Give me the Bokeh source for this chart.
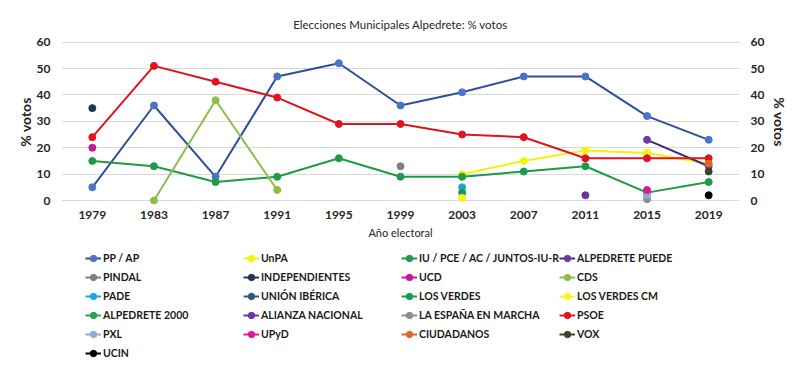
import math
from bokeh.plotting import figure
from bokeh.layouts import column
from bokeh.models import (ColumnDataSource, Legend, LegendItem, LinearAxis,
                          Range1d, FactorRange, FixedTicker)
from bokeh.embed import file_html
from bokeh.resources import INLINE

nan = float("nan")

years = ["1979", "1983", "1987", "1991", "1995", "1999", "2003", "2007", "2011", "2015", "2019"]
y_ticks = [0, 10, 20, 30, 40, 50, 60]

pp_ap = [5, 36, 9, 47, 52, 36, 41, 47, 47, 32, 23]
unpa = [nan, nan, nan, nan, nan, nan, 10, 15, 19, 18, 14]
iu = [15, 13, 7, 9, 16, 9, 9, 11, 13, 3, 7]
alpedrete_puede = [nan, nan, nan, nan, nan, nan, nan, nan, nan, 23, 13]
pindal = [nan, nan, nan, nan, nan, 13, nan, nan, nan, nan, nan]
independientes = [35, nan, nan, nan, nan, nan, nan, nan, nan, nan, nan]
ucd = [20, nan, nan, nan, nan, nan, nan, nan, nan, nan, nan]
cds = [nan, 0, 38, 4, nan, nan, nan, nan, nan, nan, nan]
pade = [nan, nan, nan, nan, nan, nan, 5, nan, nan, nan, nan]
union_iberica = [nan] * 11
los_verdes = [nan, nan, nan, nan, nan, nan, 3, nan, nan, nan, nan]
los_verdes_cm = [nan, nan, nan, nan, nan, nan, 1, nan, nan, nan, nan]
alpedrete_2000 = [nan] * 11
alianza_nacional = [nan, nan, nan, nan, nan, nan, nan, nan, 2, nan, nan]
la_espana_en_marcha = [nan, nan, nan, nan, nan, nan, nan, nan, nan, 0.5, nan]
psoe = [24, 51, 45, 39, 29, 29, 25, 24, 16, 16, 16]
pxl = [nan, nan, nan, nan, nan, nan, nan, nan, nan, 2, nan]
upyd = [nan, nan, nan, nan, nan, nan, nan, nan, nan, 4, nan]
ciudadanos = [nan, nan, nan, nan, nan, nan, nan, nan, nan, nan, 14]
vox = [nan, nan, nan, nan, nan, nan, nan, nan, nan, nan, 11]
ucin = [nan, nan, nan, nan, nan, nan, nan, nan, nan, nan, 2]

series = [
    ("PP / AP", pp_ap, "#2F4F9A", "#4A74C8"),
    ("UnPA", unpa, "#F2F20A", "#F2F20A"),
    ("IU / PCE / AC / JUNTOS-IU-R", iu, "#1E9A48", "#1E9A48"),
    ("ALPEDRETE PUEDE", alpedrete_puede, "#45287E", "#6A3AA0"),
    ("PINDAL", pindal, "#7F7F7F", "#7F7F7F"),
    ("INDEPENDIENTES", independientes, "#26365A", "#26365A"),
    ("UCD", ucd, "#C0189E", "#C0189E"),
    ("CDS", cds, "#8DBE4C", "#8DBE4C"),
    ("PADE", pade, "#1FA5D6", "#1FA5D6"),
    ("UNIÓN IBÉRICA", union_iberica, "#2D5880", "#2D5880"),
    ("LOS VERDES", los_verdes, "#159A55", "#159A55"),
    ("LOS VERDES CM", los_verdes_cm, "#F5F51A", "#F5F51A"),
    ("ALPEDRETE 2000", alpedrete_2000, "#26A14F", "#26A14F"),
    ("ALIANZA NACIONAL", alianza_nacional, "#6A35A0", "#6A35A0"),
    ("LA ESPAÑA EN MARCHA", la_espana_en_marcha, "#8C8C8C", "#8C8C8C"),
    ("PSOE", psoe, "#E0141E", "#E0141E"),
    ("PXL", pxl, "#8FA8D4", "#8FA8D4"),
    ("UPyD", upyd, "#D81B9C", "#D81B9C"),
    ("CIUDADANOS", ciudadanos, "#E0662A", "#E0662A"),
    ("VOX", vox, "#3B4230", "#3B4230"),
    ("UCIN", ucin, "#000000", "#000000"),
]

FONT = "Lato"
TOP_H = 245
LEG_H = 376 - TOP_H

p = figure(width=800, height=TOP_H,
           x_range=FactorRange(*years, range_padding=0),
           y_range=Range1d(-1.5, 61),
           output_backend="svg", toolbar_location=None,
           min_border_left=61, min_border_right=61,
           min_border_top=39, min_border_bottom=41,
           title="Elecciones Municipales Alpedrete: % votos")

p.title.align = "center"
p.title.text_font = FONT
p.title.text_font_size = "11.5px"
p.title.text_font_style = "normal"
p.title.text_color = "#262626"
p.title.standoff = 18
p.outline_line_color = None
p.background_fill_color = "white"
p.border_fill_color = "white"

p.xgrid.grid_line_color = None
p.ygrid.ticker = FixedTicker(ticks=y_ticks)
p.ygrid.grid_line_color = "#D9D9D9"
p.ygrid.grid_line_width = 1

def style_axis(ax):
    ax.axis_line_color = None
    ax.major_tick_line_color = None
    ax.minor_tick_line_color = None
    ax.major_label_text_font = FONT
    ax.major_label_text_font_style = "bold"
    ax.major_label_text_font_size = "12px"
    ax.major_label_text_color = "#262626"
    ax.axis_label_text_font = FONT
    ax.axis_label_text_color = "#262626"

xa = p.xaxis[0]
style_axis(xa)
xa.axis_label = "Año electoral"
xa.axis_label_text_font_style = "normal"
xa.axis_label_text_font_size = "11px"
xa.major_label_standoff = 0
xa.axis_label_standoff = 4

ya = p.yaxis[0]
style_axis(ya)
ya.ticker = FixedTicker(ticks=y_ticks)
ya.axis_label = "% votos"
ya.axis_label_text_font_style = "bold"
ya.axis_label_text_font_size = "14px"
ya.major_label_standoff = 5
ya.axis_label_standoff = 0

ra = LinearAxis(ticker=FixedTicker(ticks=y_ticks), axis_label="% votos")
style_axis(ra)
ra.axis_label_text_font_style = "bold"
ra.axis_label_text_font_size = "14px"
ra.major_label_standoff = 5
ra.axis_label_standoff = 4
p.add_layout(ra, "right")

# legend panel: same data, y range placed away from the data so only the legend shows
q = figure(width=800, height=LEG_H,
           x_range=FactorRange(*years, range_padding=0),
           y_range=Range1d(1000, 1000 + LEG_H),
           x_axis_type=None, y_axis_type=None,
           output_backend="svg", toolbar_location=None,
           min_border=0, min_border_left=0, min_border_right=0,
           min_border_top=0, min_border_bottom=0)
q.grid.visible = False
q.outline_line_color = None
q.background_fill_color = "white"
q.border_fill_color = "white"

items = []
for name, vals, lc, mc in series:
    src = ColumnDataSource(dict(x=years, y=vals))
    p.line("x", "y", source=src, line_color=lc, line_width=2)
    p.scatter("x", "y", source=src, size=7, fill_color=mc, line_color=mc)
    l1 = q.line("x", "y", source=src, line_color=lc, line_width=2)
    l2 = q.scatter("x", "y", source=src, size=7, fill_color=mc, line_color=mc)
    items.append(LegendItem(label=name, renderers=[l1, l2]))

# column start positions relative to the (aligned) plot frame left edge
col_x = [24, 182, 340, 498]
ROW_H = 16
GAP = 3
TOP_OFF = 5
for k in range(4):
    col_items = items[k::4]
    n = len(col_items)
    h = n * ROW_H + (n - 1) * GAP
    leg = Legend(items=col_items, location=(col_x[k], LEG_H - TOP_OFF - h),
                 orientation="vertical",
                 label_text_font=FONT, label_text_font_style="bold",
                 label_text_font_size="10.5px", label_text_color="#1a1a1a",
                 label_height=ROW_H, glyph_height=ROW_H, glyph_width=16,
                 label_standoff=2, spacing=GAP, padding=0, margin=0,
                 border_line_color=None, background_fill_alpha=0)
    q.add_layout(leg, "center")

layout = column(p, q, spacing=0)
open("out.html", "w").write(file_html(layout, INLINE))
